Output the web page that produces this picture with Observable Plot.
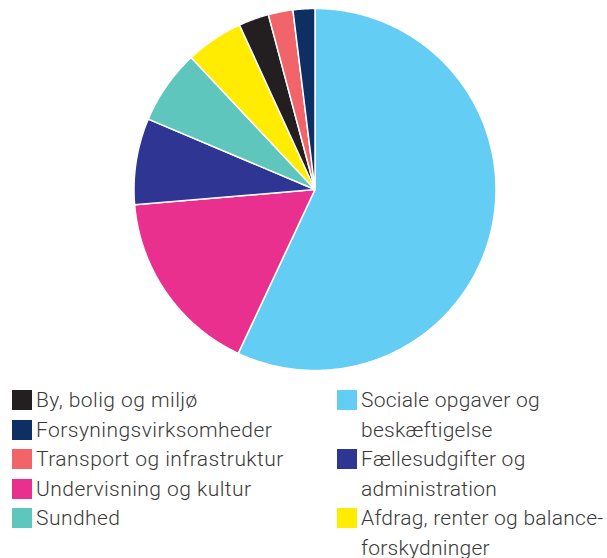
<!DOCTYPE html>
<html>
<head>
<meta charset="utf-8">
<script src="https://cdn.jsdelivr.net/npm/d3@7"></script>
<script src="https://cdn.jsdelivr.net/npm/@observablehq/plot@0.6"></script>
<style>
  html, body { margin: 0; padding: 0; background: #fff; }
  body { width: 607px; height: 558px; position: relative; overflow: hidden;
         font-family: "Roboto Slab", Roboto, sans-serif; font-weight: 300; }
  #chart svg { display: block; }
  .item { position: absolute; display: flex; align-items: flex-start; font-size: 21px;
          letter-spacing: 0.45px; line-height: 29.5px; color: #3a3a3a; }
  .item.right { letter-spacing: 0.25px; }
  .sw { width: 20px; height: 20px; flex: none; margin-top: 4px; margin-right: 4px; }
</style>
</head>
<body>
<div id="chart"></div>
<div id="legend"></div>
<script>
// Slices in clockwise order from 12 o'clock
const categories = [
  "Sociale opgaver og beskæftigelse",
  "Undervisning og kultur",
  "Fællesudgifter og administration",
  "Sundhed",
  "Afdrag, renter og balance-forskydninger",
  "By, bolig og miljø",
  "Transport og infrastruktur",
  "Forsyningsvirksomheder"
];
const shares = [57.0, 16.7, 7.7, 6.65, 5.15, 2.7, 2.2, 1.95];
const colors = ["#64cdf3", "#e9308f", "#2e3593", "#5ec6bd", "#ffec00", "#231f20", "#f0646a", "#0d2f63"];

// Legend order (left column then right column)
const legendLeft = ["By, bolig og miljø", "Forsyningsvirksomheder", "Transport og infrastruktur", "Undervisning og kultur", "Sundhed"];
const legendRight = ["Sociale opgaver og beskæftigelse", "Fællesudgifter og administration", "Afdrag, renter og balance-forskydninger"];

// Build slice outlines (center + arc) from the shares via d3.pie
const pie = d3.pie().sort(null).value(d => d.v)(categories.map((c, i) => ({c, v: shares[i]})));
const pts = [];
for (const s of pie) {
  const n = Math.max(4, Math.ceil((s.endAngle - s.startAngle) / 0.01));
  pts.push({cat: s.data.c, x: 0, y: 0});
  for (let k = 0; k <= n; k++) {
    const a = s.startAngle + (s.endAngle - s.startAngle) * k / n;
    pts.push({cat: s.data.c, x: Math.sin(a), y: Math.cos(a)});
  }
  pts.push({cat: s.data.c, x: 0, y: 0});
}

const plot = Plot.plot({
  width: 607,
  height: 380,
  marginLeft: 133.5,
  marginRight: 111.5,
  marginTop: 8,
  marginBottom: 10,
  x: {domain: [-1, 1], axis: null},
  y: {domain: [-1, 1], axis: null},
  color: {domain: categories, range: colors},
  marks: [
    Plot.line(pts, {x: "x", y: "y", z: "cat", fill: "cat", stroke: "#fff", strokeWidth: 1.5, strokeLinejoin: "round"})
  ]
});
document.getElementById("chart").appendChild(plot);

const legend = document.getElementById("legend");
const colorOf = c => colors[categories.indexOf(c)];
legendLeft.forEach((c, i) => {
  const d = document.createElement("div");
  d.className = "item";
  d.style.left = "12px";
  d.style.top = (386 + i * 29.5) + "px";
  d.innerHTML = `<div class="sw" style="background:${colorOf(c)}"></div><span></span>`;
  d.querySelector("span").textContent = c;
  legend.appendChild(d);
});
legendRight.forEach((c, i) => {
  const d = document.createElement("div");
  d.className = "item right";
  d.style.left = "337px";
  d.style.top = (386 + i * 59) + "px";
  d.style.width = "272px";
  d.innerHTML = `<div class="sw" style="background:${colorOf(c)}"></div><span></span>`;
  d.querySelector("span").textContent = c;
  legend.appendChild(d);
});
</script>
</body>
</html>
